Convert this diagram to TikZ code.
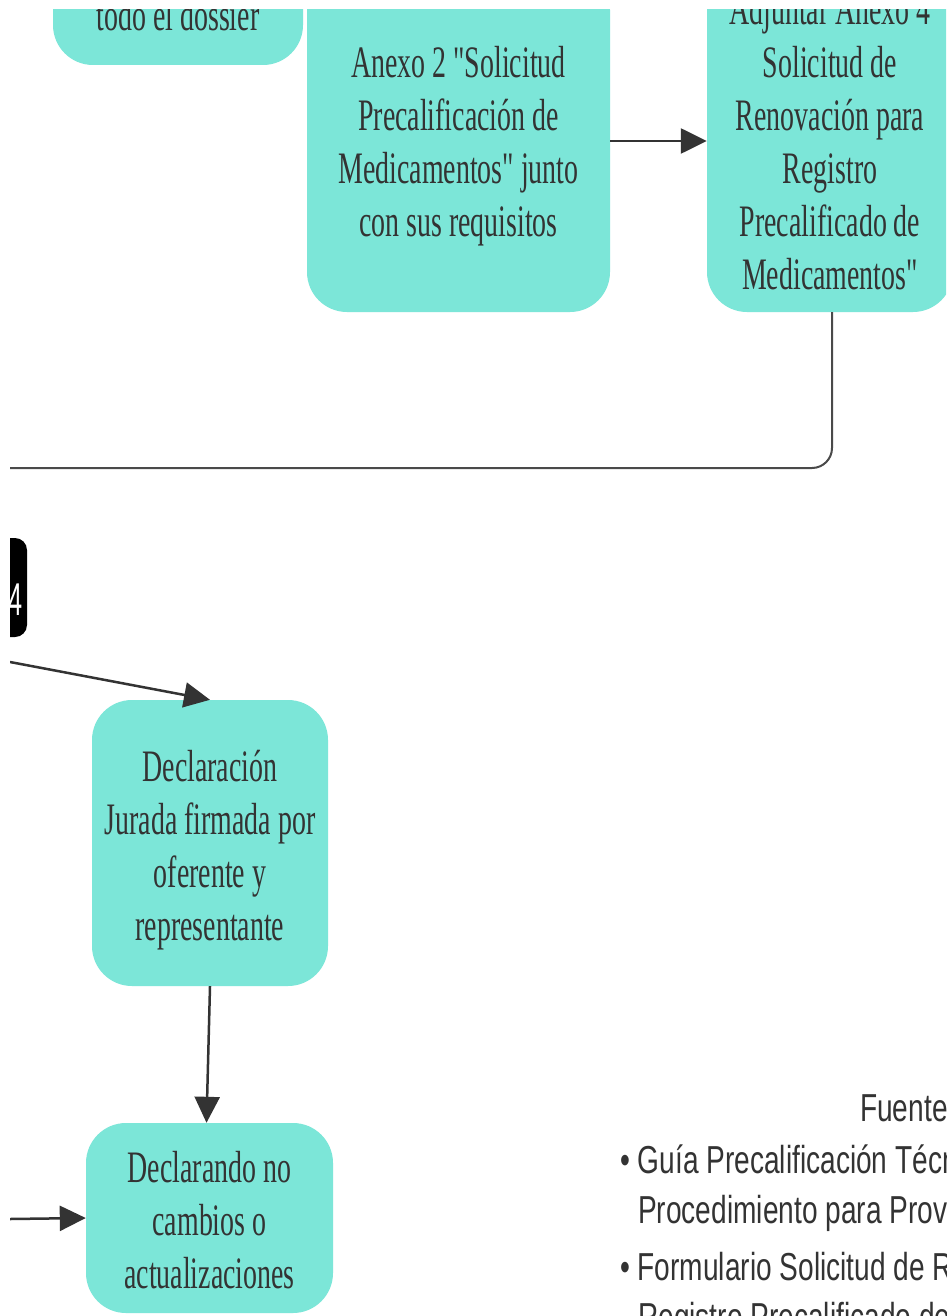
\documentclass[tikz,border=0pt]{standalone}
\usepackage{fontspec}
\usetikzlibrary{arrows.meta,calc}
% condensed faces used by the flowchart
\newfontfamily\boxfont[FakeStretch=0.62]{Liberation Serif}
\newfontfamily\notefont[FakeStretch=0.72]{Liberation Sans}
\newfontfamily\tagfont[FakeStretch=0.55]{Liberation Sans}
\definecolor{stepfill}{HTML}{7CE6D8}
\definecolor{ink}{HTML}{333333}
\definecolor{wire}{HTML}{4A4A4A}

\begin{document}
\begin{tikzpicture}[x=1pt,y=-1pt,
  stepbox/.style={fill=stepfill, draw=none, rounded corners=40pt, inner sep=0pt},
  steptext/.style={inner sep=0pt, text=ink, align=center,
    font=\boxfont\fontsize{45}{53}\selectfont},
  tagbox/.style={fill=black, draw=none, rounded corners=12pt, inner sep=0pt},
  note/.style={inner sep=0pt, text=ink, font=\notefont\fontsize{39}{50}\selectfont},
  conn/.style={draw=ink, line width=2.5pt, -{Triangle[length=26pt,width=25pt]}},
  link/.style={draw=wire, line width=2pt, rounded corners=20pt}
]
\useasboundingbox (0,0) rectangle (946,1316);
\fill[white] (0,0) rectangle (946,1316);
\clip (10,10) rectangle (946,1316);

% top row of steps
\node[stepbox, minimum width=250pt, minimum height=265pt] (s0) at (178,-67.5) {};
\node[steptext, anchor=base] (s0t) at (178,31) {todo el dossier};

\node[stepbox, minimum width=303pt, minimum height=342pt] (a2) at (458.5,141) {};
\node[steptext] (a2t) at ($(a2.center)+(0,5)$)
  {Anexo 2 "Solicitud\\Precalificación de\\Medicamentos" junto\\con sus requisitos};

\node[stepbox, minimum width=246pt, minimum height=342pt] (rb) at (830,141) {};
\node[steptext] (rbt) at ($(rb.center)+(0,1)$)
  {Adjuntar Anexo 4\\Solicitud de\\Renovación para\\Registro\\Precalificado de\\Medicamentos"};

\draw[conn] (a2.east) -- (rb.west);

% return line running off to the left
\coordinate (out1) at (10,468);
\draw[link] ($(rb.south)+(2,0)$) |- (out1);

% black tag
\node[tagbox, minimum width=67pt, minimum height=99pt] (tag) at (-6.5,587.5) {};
\node[inner sep=0pt, text=white, font=\tagfont\fontsize{46}{50}\selectfont, anchor=base east] (tagt) at (23,615) {4};

% lower column of steps
\node[stepbox, minimum width=236pt, minimum height=286pt] (d1) at (210,843) {};
\node[steptext] (d1t) at ($(d1.center)+(0,7)$)
  {Declaración\\Jurada firmada por\\oferente y\\representante};

\node[stepbox, minimum width=247pt, minimum height=190pt] (d2) at (209.5,1218) {};
\node[steptext] (d2t) at ($(d2.center)+(0,2)$)
  {Declarando no\\cambios o\\actualizaciones};

\coordinate (in1) at (10,662);
\coordinate (in2) at (10,1219);
\draw[conn] (in1) -- (d1.north);
\draw[conn] (d1.south) -- ($(d2.north)+(-3,0)$);
\draw[conn] (in2) -- (d2.west);

% sources
\node[note, anchor=base west] (f0) at (860,1121) {Fuente};
\node[note, anchor=base west] (f1) at (620,1173) {• Guía Precalificación Técnica};
\node[note, anchor=base west] (f2) at (638,1223) {Procedimiento para Proveedores};
\node[note, anchor=base west] (f3) at (620,1280) {• Formulario Solicitud de Renovación};
\node[note, anchor=base west] (f4) at (638,1330) {Registro Precalificado de};
\end{tikzpicture}
\end{document}
